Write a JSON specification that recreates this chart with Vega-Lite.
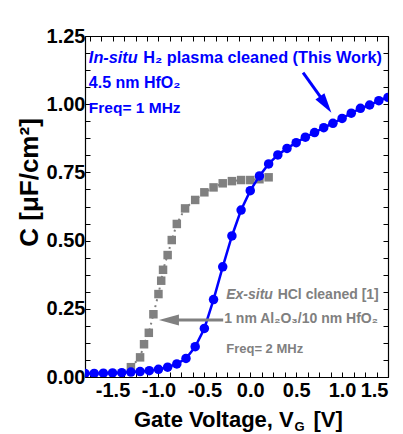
{
  "$schema": "https://vega.github.io/schema/vega-lite/v6.json",
  "width": 303,
  "height": 341,
  "autosize": {"type": "none"},
  "padding": {"left": 85, "top": 36, "right": 15, "bottom": 57},
  "background": "white",
  "config": {
    "view": {"stroke": null},
    "font": "Liberation Sans",
    "axis": {"grid": false, "domainColor": "black", "tickColor": "black", "labelColor": "black", "labelFont": "Liberation Sans", "labelFontWeight": "bold", "titleFont": "Liberation Sans", "titleFontWeight": "bold", "titleColor": "black"}
  },
  "datasets": {
    "insitu": [
      {"v": -1.8, "c": 0.013}, {"v": -1.7, "c": 0.013}, {"v": -1.6, "c": 0.014}, {"v": -1.5, "c": 0.015},
      {"v": -1.4, "c": 0.016}, {"v": -1.3, "c": 0.018}, {"v": -1.2, "c": 0.020}, {"v": -1.1, "c": 0.023},
      {"v": -1.0, "c": 0.028}, {"v": -0.9, "c": 0.036}, {"v": -0.8, "c": 0.048}, {"v": -0.7, "c": 0.068},
      {"v": -0.6, "c": 0.111}, {"v": -0.5, "c": 0.178}, {"v": -0.4, "c": 0.284}, {"v": -0.3, "c": 0.404},
      {"v": -0.2, "c": 0.517}, {"v": -0.1, "c": 0.612}, {"v": 0.0, "c": 0.683}, {"v": 0.1, "c": 0.737},
      {"v": 0.2, "c": 0.781}, {"v": 0.3, "c": 0.814}, {"v": 0.4, "c": 0.838}, {"v": 0.5, "c": 0.859},
      {"v": 0.6, "c": 0.879}, {"v": 0.7, "c": 0.896}, {"v": 0.8, "c": 0.914}, {"v": 0.9, "c": 0.930},
      {"v": 1.0, "c": 0.948}, {"v": 1.1, "c": 0.967}, {"v": 1.2, "c": 0.985}, {"v": 1.3, "c": 0.997},
      {"v": 1.4, "c": 1.013}, {"v": 1.5, "c": 1.025}
    ],
    "exsitu": [
      {"v": -1.3, "c": 0.036}, {"v": -1.2, "c": 0.072}, {"v": -1.157, "c": 0.120}, {"v": -1.105, "c": 0.162},
      {"v": -1.055, "c": 0.230}, {"v": -1.0, "c": 0.304}, {"v": -0.97, "c": 0.353}, {"v": -0.95, "c": 0.393},
      {"v": -0.90, "c": 0.447}, {"v": -0.855, "c": 0.502}, {"v": -0.80, "c": 0.561}, {"v": -0.71, "c": 0.618},
      {"v": -0.6, "c": 0.649}, {"v": -0.5, "c": 0.677}, {"v": -0.4, "c": 0.695}, {"v": -0.3, "c": 0.710},
      {"v": -0.2, "c": 0.718}, {"v": -0.1, "c": 0.722}, {"v": 0.0, "c": 0.722}, {"v": 0.1, "c": 0.725},
      {"v": 0.2, "c": 0.732}
    ]
  },
  "resolve": {"axis": {"x": "independent", "y": "independent"}},
  "layer": [
    {
      "data": {"name": "insitu"},
      "mark": {"type": "point", "opacity": 0},
      "encoding": {
        "x": {"field": "v", "type": "quantitative", "scale": {"domain": [-1.8, 1.5], "nice": false, "zero": false},
          "axis": {"orient": "top", "labels": false, "title": null, "tickSize": -5, "domainWidth": 1.2,
            "values": [-1.75, -1.625, -1.5, -1.375, -1.25, -1.125, -1.0, -0.875, -0.75, -0.625, -0.5, -0.375, -0.25, -0.125, 0, 0.125, 0.25, 0.375, 0.5, 0.625, 0.75, 0.875, 1.0, 1.125, 1.25, 1.375, 1.5]}},
        "y": {"field": "c", "type": "quantitative", "scale": {"domain": [0, 1.25], "nice": false},
          "axis": {"orient": "right", "labels": false, "title": null, "tickSize": -5, "domainWidth": 1.2,
            "values": [0, 0.0625, 0.125, 0.1875, 0.25, 0.3125, 0.375, 0.4375, 0.5, 0.5625, 0.625, 0.6875, 0.75, 0.8125, 0.875, 0.9375, 1.0, 1.0625, 1.125, 1.1875, 1.25]}}
      }
    },
    {
      "data": {"name": "exsitu"},
      "mark": {"type": "line", "color": "#808080", "strokeWidth": 2, "strokeDash": [2, 4], "clip": true},
      "encoding": {
        "x": {"field": "v", "type": "quantitative", "scale": {"domain": [-1.8, 1.5], "nice": false, "zero": false},
          "axis": {"orient": "bottom", "tickSize": -5, "domainWidth": 1.2, "labelFontSize": 20, "labelPadding": 8,
            "labelExpr": "abs(datum.value*2 - round(datum.value*2)) < 0.001 ? replace(format(datum.value, '.1f'), '\u2212', '-') : ''",
            "title": null,
            "values": [-1.75, -1.625, -1.5, -1.375, -1.25, -1.125, -1.0, -0.875, -0.75, -0.625, -0.5, -0.375, -0.25, -0.125, 0, 0.125, 0.25, 0.375, 0.5, 0.625, 0.75, 0.875, 1.0, 1.125, 1.25, 1.375, 1.5]}},
        "y": {"field": "c", "type": "quantitative", "scale": {"domain": [0, 1.25], "nice": false},
          "axis": {"orient": "left", "tickSize": -5, "domainWidth": 1.2, "labelFontSize": 20, "labelPadding": 5,
            "labelExpr": "abs(datum.value*4 - round(datum.value*4)) < 0.001 ? format(datum.value, '.2f') : ''",
            "title": "C [\u03bcF/cm\u00b2]", "titleFontSize": 26, "titleAngle": -90, "titleX": -48, "titleY": 146, "titleAlign": "center", "titleBaseline": "alphabetic",
            "values": [0, 0.0625, 0.125, 0.1875, 0.25, 0.3125, 0.375, 0.4375, 0.5, 0.5625, 0.625, 0.6875, 0.75, 0.8125, 0.875, 0.9375, 1.0, 1.0625, 1.125, 1.1875, 1.25]}}
      }
    },
    {
      "data": {"name": "exsitu"},
      "mark": {"type": "point", "shape": "square", "filled": true, "color": "#808080", "size": 72, "opacity": 1, "clip": true},
      "encoding": {
        "x": {"field": "v", "type": "quantitative", "axis": null},
        "y": {"field": "c", "type": "quantitative", "axis": null}
      }
    },
    {
      "data": {"name": "insitu"},
      "mark": {"type": "line", "color": "#0000ff", "strokeWidth": 2.5, "clip": true},
      "encoding": {
        "x": {"field": "v", "type": "quantitative", "axis": null},
        "y": {"field": "c", "type": "quantitative", "axis": null}
      }
    },
    {
      "data": {"name": "insitu"},
      "mark": {"type": "point", "shape": "circle", "filled": true, "color": "#0000ff", "size": 90, "opacity": 1, "clip": true},
      "encoding": {
        "x": {"field": "v", "type": "quantitative", "axis": null},
        "y": {"field": "c", "type": "quantitative", "axis": null}
      }
    },
    {
      "data": {"values": [
        {"x1": 0.575, "y1": 1.116, "x2": 0.815, "y2": 1.003, "col": "blue"},
        {"x1": -0.295, "y1": 0.209, "x2": -0.88, "y2": 0.209, "col": "gray"}
      ]},
      "mark": {"type": "rule", "strokeWidth": 3},
      "encoding": {
        "x": {"field": "x1", "type": "quantitative", "axis": null},
        "x2": {"field": "x2"},
        "y": {"field": "y1", "type": "quantitative", "axis": null},
        "y2": {"field": "y2"},
        "color": {"field": "col", "type": "nominal", "scale": {"domain": ["blue", "gray"], "range": ["#0000ff", "#808080"]}, "legend": null}
      }
    },
    {
      "data": {"values": [
        {"x": 0.821, "y": 0.999, "ang": 145, "col": "blue"},
        {"x": -0.886, "y": 0.209, "ang": 270, "col": "gray"}
      ]},
      "mark": {"type": "point", "shape": "M0,-1L0.55,1L-0.55,1Z", "filled": true, "opacity": 1, "size": 400},
      "encoding": {
        "x": {"field": "x", "type": "quantitative", "axis": null},
        "y": {"field": "y", "type": "quantitative", "axis": null},
        "angle": {"field": "ang", "type": "quantitative", "scale": null},
        "color": {"field": "col", "type": "nominal", "scale": {"domain": ["blue", "gray"], "range": ["#0000ff", "#808080"]}, "legend": null}
      }
    },
    {
      "data": {"values": [
        {"x": -1.758, "y": 1.150, "t": "In-situ", "col": "blue", "fs": 16.3},
        {"x": -0.262, "y": 0.285, "t": "Ex-situ", "col": "gray", "fs": 14}
      ]},
      "mark": {"type": "text", "align": "left", "baseline": "alphabetic", "fontWeight": "bold", "fontStyle": "italic", "font": "Liberation Sans"},
      "encoding": {
        "x": {"field": "x", "type": "quantitative", "axis": null},
        "y": {"field": "y", "type": "quantitative", "axis": null},
        "text": {"field": "t"},
        "size": {"field": "fs", "type": "quantitative", "scale": null},
        "color": {"field": "col", "type": "nominal", "scale": {"domain": ["blue", "gray"], "range": ["#0000ff", "#808080"]}, "legend": null}
      }
    },
    {
      "data": {"values": [
        {"x": -1.165, "y": 1.150, "t": "H\u2082 plasma cleaned (This Work)", "col": "blue", "fs": 16.3},
        {"x": -1.758, "y": 1.058, "t": "4.5 nm HfO\u2082", "col": "blue", "fs": 16},
        {"x": -1.758, "y": 0.967, "t": "Freq= 1 MHz", "col": "blue", "fs": 15.5},
        {"x": 0.298, "y": 0.285, "t": "HCl cleaned [1]", "col": "gray", "fs": 14},
        {"x": -0.284, "y": 0.199, "t": "1 nm Al\u2082O\u2083/10 nm HfO\u2082", "col": "gray", "fs": 14},
        {"x": -0.262, "y": 0.089, "t": "Freq= 2 MHz", "col": "gray", "fs": 13}
      ]},
      "mark": {"type": "text", "align": "left", "baseline": "alphabetic", "fontWeight": "bold", "font": "Liberation Sans"},
      "encoding": {
        "x": {"field": "x", "type": "quantitative", "axis": null},
        "y": {"field": "y", "type": "quantitative", "axis": null},
        "text": {"field": "t"},
        "size": {"field": "fs", "type": "quantitative", "scale": null},
        "color": {"field": "col", "type": "nominal", "scale": {"domain": ["blue", "gray"], "range": ["#0000ff", "#808080"]}, "legend": null}
      }
    },
    {
      "data": {"values": [
        {"x": 0.473, "y": -0.183, "t": "Gate Voltage, V", "fs": 22}
      ]},
      "mark": {"type": "text", "align": "right", "baseline": "alphabetic", "fontWeight": "bold", "font": "Liberation Sans", "color": "black"},
      "encoding": {
        "x": {"field": "x", "type": "quantitative", "axis": null},
        "y": {"field": "y", "type": "quantitative", "axis": null},
        "text": {"field": "t"},
        "size": {"field": "fs", "type": "quantitative", "scale": null}
      }
    },
    {
      "data": {"values": [
        {"x": 0.481, "y": -0.197, "t": "G", "fs": 13},
        {"x": 0.688, "y": -0.183, "t": "[V]", "fs": 22}
      ]},
      "mark": {"type": "text", "align": "left", "baseline": "alphabetic", "fontWeight": "bold", "font": "Liberation Sans", "color": "black"},
      "encoding": {
        "x": {"field": "x", "type": "quantitative", "axis": null},
        "y": {"field": "y", "type": "quantitative", "axis": null},
        "text": {"field": "t"},
        "size": {"field": "fs", "type": "quantitative", "scale": null}
      }
    }
  ]
}
